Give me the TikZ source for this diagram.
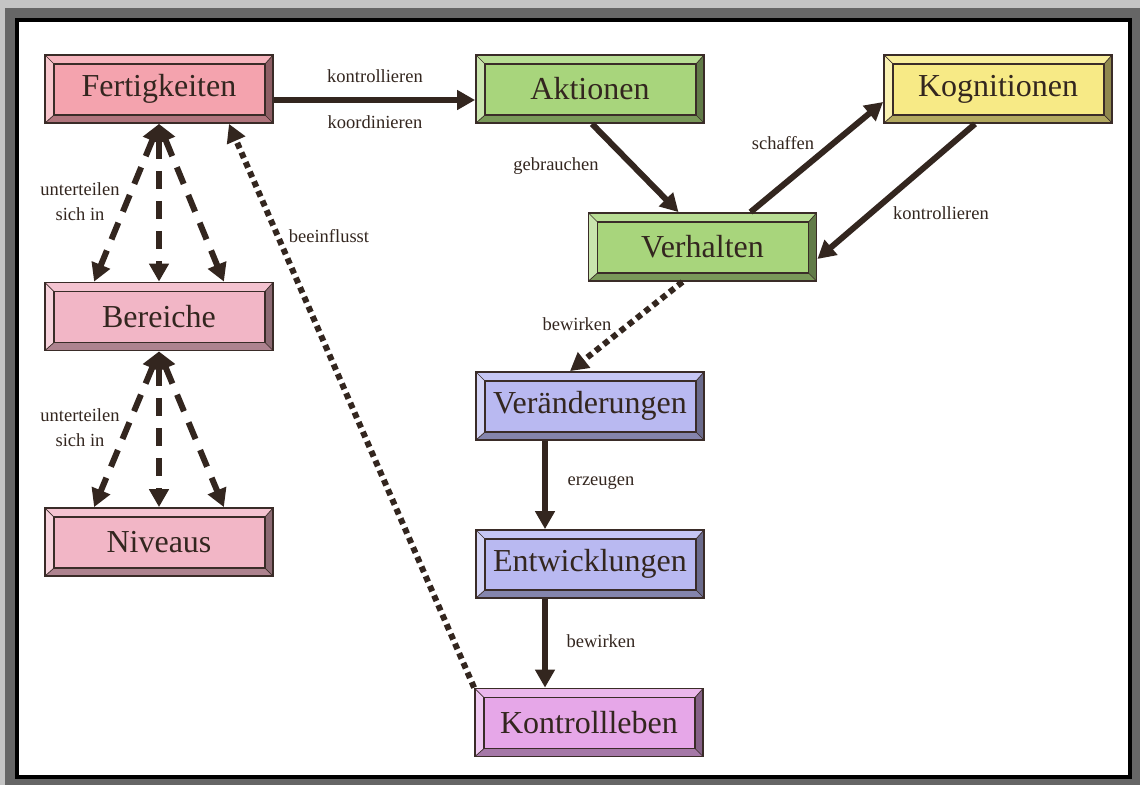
\documentclass[tikz,border=0pt]{standalone}
\usepackage{fontspec}
\setmainfont{Liberation Serif}
\usetikzlibrary{arrows.meta}

\definecolor{ink}{HTML}{33261F}
\definecolor{edge}{HTML}{3A2C28}
\definecolor{framedark}{HTML}{666666}
\definecolor{framelight}{HTML}{C4C4C4}
\definecolor{rosa}{HTML}{F4A3AE}
\definecolor{hellrosa}{HTML}{F2B6C6}
\definecolor{gruen}{HTML}{A8D57C}
\definecolor{gelb}{HTML}{F7EA86}
\definecolor{blau}{HTML}{B9B9F1}
\definecolor{lila}{HTML}{E6A7E8}

\newcommand{\boxfont}{\fontsize{32}{38}\selectfont}
\newcommand{\labfont}{\fontsize{18.5}{25}\selectfont}

\begin{document}
\begin{tikzpicture}[x=1pt,y=-1pt,
  bevelbox/.style={draw=edge, line width=1.8pt, fill=#1, minimum width=228pt,
    minimum height=68pt, inner sep=0pt, text=ink, font=\boxfont,
    path picture={
      \coordinate (bbsw) at (path picture bounding box.south west);
      \coordinate (bbne) at (path picture bounding box.north east);
      \coordinate (bbnw) at (path picture bounding box.north west);
      \coordinate (bbse) at (path picture bounding box.south east);
      \coordinate (insw) at ([shift={(9pt,8pt)}]bbsw);
      \coordinate (inne) at ([shift={(-8pt,-9pt)}]bbne);
      \coordinate (innw) at ([shift={(9pt,-9pt)}]bbnw);
      \coordinate (inse) at ([shift={(-8pt,8pt)}]bbse);
      \fill[#1!82!white] (bbnw) -- (bbne) -- (inne) -- (innw) -- cycle;
      \fill[#1!62!white] (bbnw) -- (bbsw) -- (insw) -- (innw) -- cycle;
      \fill[#1!72!black] (bbsw) -- (bbse) -- (inse) -- (insw) -- cycle;
      \fill[#1!58!black] (bbse) -- (bbne) -- (inne) -- (inse) -- cycle;
      \draw[edge, line width=1.3pt] (insw) rectangle (inne);
      \draw[edge, line width=0.7pt] (bbsw) -- (insw) (bbnw) -- (innw)
        (bbne) -- (inne) (bbse) -- (inse);
    }},
  lab/.style={text=ink, font=\labfont, align=center, inner sep=1pt},
  pfeil/.style={draw=ink, line width=6pt, -{Triangle[length=18pt,width=19pt]}},
  strich/.style={draw=ink, line width=6pt, dash pattern=on 18pt off 12pt,
    {Triangle[length=18pt,width=19pt]}-{Triangle[length=18pt,width=19pt]}},
  punkt/.style={draw=ink, line width=6pt, dash pattern=on 6pt off 4.5pt,
    -{Triangle[length=18pt,width=19pt]}}]

% Rahmen
\useasboundingbox (0,0) rectangle (1140,785);
\fill[framelight] (0,0) rectangle (1140,785);
\fill[framedark] (5,8) rectangle (1140,785);
\fill[white] (17,20) rectangle (1130,777);
\draw[black, line width=4pt] (17,20) rectangle (1130,777);

% Kaesten
\node[bevelbox=rosa] (fert) at (159,89) {Fertigkeiten};
\node[bevelbox=hellrosa] (ber) at (159,316.5) {Bereiche};
\node[bevelbox=hellrosa] (niv) at (159,542) {Niveaus};
\node[bevelbox=gruen] (akt) at (590,89) {Aktionen};
\node[bevelbox=gelb] (kog) at (998,89) {Kognitionen};
\node[bevelbox=gruen] (verh) at (702.5,247) {Verhalten};
\node[bevelbox=blau] (ver) at (590,406) {Veränderungen};
\node[bevelbox=blau] (entw) at (590,564) {Entwicklungen};
\node[bevelbox=lila] (kontr) at (589,722.5) {Kontrollleben};

% Pfeile
\draw[pfeil] ([yshift=-11pt]fert.east) -- ([yshift=-11pt]akt.west);
\draw[pfeil] ([xshift=2pt]akt.south) -- ([xshift=-24pt]verh.north);
\draw[pfeil] ([xshift=48pt]verh.north) -- ([yshift=-13pt]kog.west);
\draw[pfeil] ([xshift=-23pt]kog.south) -- ([yshift=-12pt]verh.east);
\draw[punkt] ([xshift=-20pt]verh.south) -- ([xshift=-20pt]ver.north);
\draw[pfeil] ([xshift=-45pt]ver.south) -- ([xshift=-45pt]entw.north);
\draw[pfeil] ([xshift=-45pt]entw.south) -- ([xshift=-44pt]kontr.north);
\draw[punkt] (kontr.north west) -- ([xshift=70pt]fert.south);

\draw[strich] (fert.south) -- ([xshift=50pt]ber.north west);
\draw[strich] (fert.south) -- (ber.north);
\draw[strich] (fert.south) -- ([xshift=-50pt]ber.north east);
\draw[strich] (ber.south) -- ([xshift=50pt]niv.north west);
\draw[strich] (ber.south) -- (niv.north);
\draw[strich] (ber.south) -- ([xshift=-50pt]niv.north east);

% Beschriftungen
\node[lab] (l1) at (375,76) {kontrollieren};
\node[lab] (l2) at (375,122) {koordinieren};
\node[lab] (l3) at (556,166) {gebrauchen};
\node[lab] (l4) at (783,143) {schaffen};
\node[lab] (l5) at (941,213) {kontrollieren};
\node[lab] (l6) at (80,202) {unterteilen\\sich in};
\node[lab] (l7) at (80,428) {unterteilen\\sich in};
\node[lab] (l8) at (329,236) {beeinflusst};
\node[lab] (l9) at (577,324) {bewirken};
\node[lab] (l10) at (601,483) {erzeugen};
\node[lab] (l11) at (601,641) {bewirken};
\end{tikzpicture}
\end{document}
